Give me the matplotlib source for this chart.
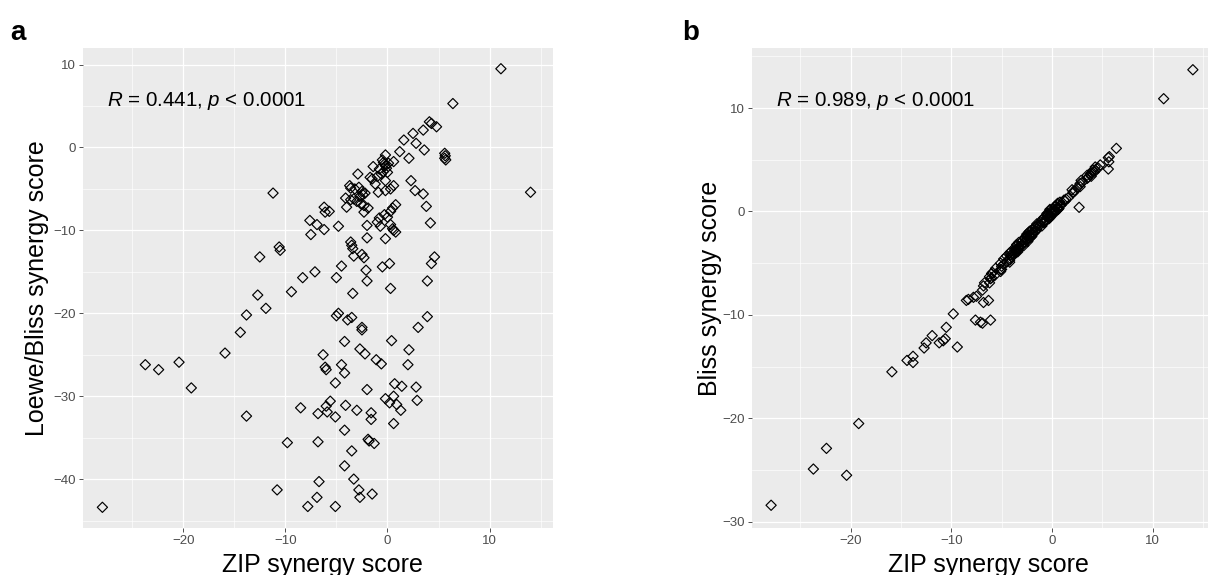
import matplotlib.pyplot as plt
from matplotlib.ticker import MultipleLocator

# 글꼴 설정 (ggplot 기본 Arial 대신 Liberation Sans)
plt.rcParams['font.family'] = ['Liberation Sans', 'DejaVu Sans']
plt.rcParams['mathtext.fontset'] = 'custom'
plt.rcParams['mathtext.rm'] = 'Liberation Sans'
plt.rcParams['mathtext.it'] = 'Liberation Sans:italic'

# ZIP synergy score (두 그림 공통 x 값)
zip_score = [
    -27.9, -23.7, -22.4, -20.4, -19.2, -15.9, -14.4, -13.8, -13.8, -12.7,
    -12.5, -11.9, -11.2, -10.8, -10.6, -10.5, -9.8, -9.4, -8.5, -8.3,
    -7.8, -7.6, -7.5, -7.1, -6.9, -6.9, -6.8, -6.8, -6.7, -6.3,
    -6.2, -6.2, -6.1, -5.7, -6.1, -6.0, -6.0, -5.9, -5.6, -5.1,
    -5.1, -5.1, -5.0, -4.8, -4.8, -5.0, -4.5, -4.5, -4.2, -4.2,
    -4.2, -4.2, -4.1, -4.1, -4.0, -3.9, -3.6, -3.6, -3.3, -3.6,
    -3.5, -3.4, -3.5, -3.5, -3.4, -3.3, -3.3, -3.0, -2.9, -2.8,
    -2.7, -2.8, -2.5, -2.4, -2.7, -2.7, -2.5, -2.5, -2.5, -2.3,
    -2.3, -2.3, -2.2, -2.1, -2.0, -2.0, -2.0, -2.0, -1.9, -1.8,
    -1.3, -1.6, -1.6, -1.5, -1.5, -1.4, -1.1, -0.6, -1.0, -0.8,
    -0.7, -0.5, -0.3, -0.1, -0.4, -0.6, -0.2, -0.2, -0.5, 0.2,
    -0.2, -0.2, 0.2, 0.6, 0.9, 1.3, 0.6, 0.3, 0.4, 0.7,
    1.4, 0.6, 0.3, -0.2, 0.6, 1.2, 1.6, 2.5, 2.8, 2.1,
    0.5, 0.8, 0.3, 0.6, 0.8, 0.0, 0.3, 0.5, -0.3, -0.4,
    -0.2, 0.1, -0.8, -1.0, 0.0, 2.3, 2.7, 3.5, 3.8, 4.2,
    4.6, 4.3, 3.9, 3.9, 3.0, 2.1, 2.0, 2.8, 2.9, 3.6,
    3.5, 4.1, 4.3, 4.8, 6.4, 11.1, 14.0, 5.6, 5.65, 5.6,
    5.7, -3.7, -3.2, -2.2, -3.0, -2.6, -1.9, -1.7, -1.2, -0.9,
]

# Loewe/Bliss synergy score (그림 a)
loewe_score = [
    -43.4, -26.2, -26.8, -25.9, -29.0, -24.8, -22.3, -20.2, -32.4, -17.8,
    -13.2, -19.4, -5.5, -41.3, -12.0, -12.4, -35.6, -17.4, -31.4, -15.7,
    -43.3, -8.8, -10.5, -15.0, -9.3, -42.2, -32.1, -35.5, -40.3, -25.0,
    -9.9, -7.2, -7.8, -7.7, -26.5, -26.8, -31.2, -31.9, -30.6, -28.4,
    -32.5, -43.3, -15.7, -9.5, -20.0, -20.3, -14.3, -26.2, -23.4, -27.2,
    -34.1, -38.4, -31.1, -6.1, -7.2, -20.8, -4.9, -6.3, -6.2, -11.4,
    -11.8, -12.2, -20.5, -36.6, -17.6, -13.1, -40.0, -31.7, -3.2, -41.3,
    -42.2, -4.8, -5.3, -5.7, -5.9, -24.3, -21.7, -22.0, -12.9, -13.3,
    -7.0, -7.8, -24.9, -14.8, -16.1, -29.2, -9.4, -10.9, -35.2, -35.4,
    -35.7, -32.0, -32.8, -41.8, -3.8, -2.3, -25.6, -26.1, -9.0, -8.5,
    -9.5, -1.5, -2.0, -2.5, -2.9, -3.2, -0.9, -4.0, -14.4, -14.0,
    -11.0, -30.3, -30.8, -30.0, -31.0, -31.7, -33.3, -17.0, -23.3, -28.5,
    -28.8, -4.6, -5.0, -5.2, -1.7, -0.5, 0.9, 1.7, 0.5, -1.3,
    -7.3, -6.9, -7.7, -10.0, -10.2, -8.4, -9.3, -9.8, -8.1, -1.8,
    -2.2, -1.9, -2.6, -3.5, -3.0, -4.0, -5.2, -5.6, -7.1, -9.1,
    -13.2, -14.0, -16.1, -20.4, -21.7, -24.4, -26.2, -28.9, -30.5, -0.3,
    2.1, 3.1, 2.9, 2.5, 5.3, 9.5, -5.4, -0.7, -1.0, -1.3,
    -1.5, -4.6, -5.0, -5.5, -6.5, -6.8, -7.3, -3.6, -4.4, -5.4,
]

# Bliss synergy score (그림 b)
bliss_score = [
    -28.4, -24.9, -22.9, -25.5, -20.5, -15.5, -14.4, -14.0, -14.6, -13.2,
    -12.7, -12.0, -12.7, -12.5, -12.3, -11.2, -9.9, -13.1, -8.6, -8.5,
    -8.3, -10.5, -8.2, -10.7, -10.8, -7.6, -7.2, -8.8, -6.9, -8.6,
    -6.9, -6.3, -10.5, -6.2, -6.5, -6.0, -6.4, -5.9, -5.5, -5.6,
    -5.0, -5.8, -5.3, -4.6, -5.1, -5.6, -4.9, -4.3, -4.7, -4.0,
    -4.5, -4.9, -4.2, -3.9, -4.4, -4.1, -3.4, -4.0, -3.5, -3.9,
    -3.2, -3.8, -3.6, -3.3, -3.9, -3.0, -3.6, -3.2, -2.8, -3.1,
    -2.6, -3.3, -2.4, -2.9, -2.5, -3.0, -2.2, -2.7, -2.4, -2.0,
    -2.6, -2.3, -1.9, -2.5, -2.1, -1.8, -2.4, -2.2, -1.7, -2.1,
    -1.4, -1.5, -1.9, -1.2, -1.7, -1.3, -1.0, -0.8, -1.4, -0.6,
    -1.0, -0.4, -0.7, -0.1, -0.3, -0.9, 0.1, -0.5, -0.2, 0.0,
    -0.6, 0.2, -0.1, 0.4, 0.6, 1.0, 0.2, 0.1, 0.5, 0.3,
    1.2, 0.8, -0.1, -0.3, 0.4, 1.1, 1.3, 2.3, 2.7, 1.8,
    0.3, 0.9, 0.5, 0.2, 0.6, -0.2, 0.0, 0.7, -0.5, -0.2,
    -0.4, 0.2, -1.1, -0.8, -0.1, 2.0, 0.4, 3.2, 3.6, 3.8,
    4.2, 4.0, 3.4, 3.7, 2.8, 1.9, 2.1, 2.4, 3.0, 3.3,
    3.5, 4.0, 4.3, 4.5, 6.1, 10.9, 13.7, 5.2, 4.8, 4.1,
    5.3, -3.7, -3.4, -2.4, -2.9, -2.8, -2.0, -1.5, -1.3, -1.0,
]

# (라벨, y값, y축 제목, R 값, 축 위치, y 범위, y축 제목 x 위치)
panels = [
    ('a', loewe_score, 'Loewe/Bliss synergy score', '0.441',
     [0.0687, 0.0817, 0.3891, 0.8348], (-45.9, 12.0), -0.072),
    ('b', bliss_score, 'Bliss synergy score', '0.989',
     [0.6225, 0.0817, 0.3833, 0.8348], (-30.6, 15.8), -0.065),
]

fig = plt.figure(figsize=(12.08, 5.75), dpi=100)

for letter, yvals, ylab, rval, pos, ylim, ylab_x in panels:
    ax = fig.add_axes(pos)
    ax.set_facecolor('#EBEBEB')
    ax.scatter(zip_score, yvals, marker='D', s=27, facecolors='none',
               edgecolors='black', linewidths=0.85, zorder=3)

    ax.set_xlim(-29.8, 16.2)
    ax.set_ylim(*ylim)
    ax.xaxis.set_major_locator(MultipleLocator(10))
    ax.yaxis.set_major_locator(MultipleLocator(10))
    ax.xaxis.set_minor_locator(MultipleLocator(5))
    ax.yaxis.set_minor_locator(MultipleLocator(5))

    # ggplot 회색 테마 흉내
    ax.grid(which='major', color='white', linewidth=0.9)
    ax.grid(which='minor', color='white', linewidth=0.45)
    ax.set_axisbelow(True)
    for sp in ax.spines.values():
        sp.set_visible(False)
    ax.tick_params(which='major', length=3, width=0.6, color='#333333',
                   labelsize=9.5, labelcolor='#4D4D4D', pad=2)
    ax.tick_params(which='minor', length=0)

    ax.set_xlabel('ZIP synergy score', fontsize=18)
    ax.xaxis.label.set_va('baseline')
    ax.xaxis.set_label_coords(0.51, -0.0917)
    ax.set_ylabel(ylab, fontsize=18)
    ax.yaxis.set_label_coords(ylab_x, 0.5)

    ax.text(0.052, 0.879, r'$\it{R}$ = ' + rval + r', $\it{p}$ < 0.0001',
            transform=ax.transAxes, fontsize=14.8, ha='left', va='baseline')

# 패널 라벨
fig.text(10 / 1208, 1 - 40 / 575, 'a', fontsize=20, fontweight='bold',
         va='baseline')
fig.text(682 / 1208, 1 - 40 / 575, 'b', fontsize=20, fontweight='bold',
         va='baseline')

fig.savefig('out.png', dpi=100)
